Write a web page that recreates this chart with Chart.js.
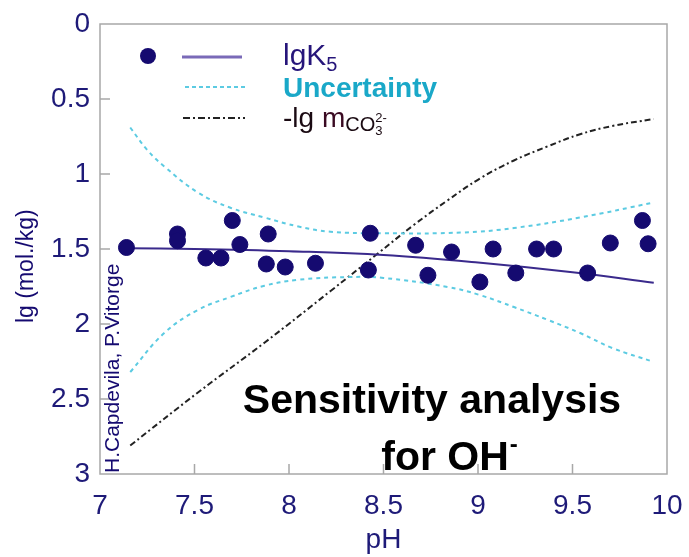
<!DOCTYPE html>
<html>
<head>
<meta charset="utf-8">
<script src="https://cdn.jsdelivr.net/npm/chart.js@4.4.1/dist/chart.umd.min.js"></script>
<style>
  html, body { margin: 0; padding: 0; background: #fff; }
  #wrap { width: 689px; height: 557px; position: relative; }
</style>
</head>
<body>
<div id="wrap"><canvas id="lgChart"></canvas></div>
<script>
// lgK5 vs pH — measured points, fitted curve, uncertainty band, -lg m(CO3 2-)
const phTicks = [7, 7.5, 8, 8.5, 9, 9.5, 10];
const lgTicks = [0, 0.5, 1, 1.5, 2, 2.5, 3];

const phPoints = [7.14, 7.41, 7.41, 7.56, 7.64, 7.70, 7.74, 7.89, 7.88, 7.98, 8.14, 8.43, 8.42,
                  8.67, 8.735, 8.86, 9.01, 9.08, 9.20, 9.31, 9.40, 9.58, 9.70, 9.87, 9.90];
const lgK5Points = [1.49, 1.40, 1.445, 1.56, 1.56, 1.31, 1.47, 1.40, 1.60, 1.62, 1.595, 1.395, 1.64,
                    1.475, 1.675, 1.52, 1.72, 1.50, 1.66, 1.50, 1.50, 1.66, 1.46, 1.31, 1.465];

const phFit = [7.14, 7.5, 8.0, 8.5, 9.0, 9.5, 9.93];
const lgK5Fit = [1.495, 1.50, 1.515, 1.54, 1.59, 1.655, 1.725];

const phUpper = [7.16, 7.25, 7.34, 7.52, 7.69, 7.87, 8.05, 8.22, 8.5, 8.92, 9.19, 9.54, 9.93];
const uncUpper = [0.69, 0.84, 0.95, 1.125, 1.225, 1.29, 1.35, 1.385, 1.395, 1.39, 1.36, 1.29, 1.19];

const phLower = [7.16, 7.34, 7.52, 7.69, 7.87, 8.05, 8.31, 8.5, 8.84, 9.01, 9.19, 9.37, 9.54, 9.71, 9.93];
const uncLower = [2.32, 2.06, 1.905, 1.82, 1.745, 1.705, 1.687, 1.693, 1.753, 1.807, 1.887, 1.973, 2.06, 2.16, 2.253];

const phCO3 = [7.16, 7.52, 7.87, 8.22, 8.47, 8.66, 8.84, 9.01, 9.19, 9.37, 9.54, 9.71, 9.93];
const lgCO3 = [2.81, 2.455, 2.125, 1.78, 1.53, 1.34, 1.175, 1.03, 0.91, 0.815, 0.735, 0.68, 0.633];

const NAVY = '#150a70';
const FIT = '#3a2a8c';
const CYAN = '#5ccbe2';
const DASHDOT = '#222222';
const FONT = '"Liberation Sans", Arial, Helvetica, sans-serif';

const pairs = (xs, ys) => xs.map((x, i) => ({ x: x, y: ys[i] }));

// frame, inner ticks, legend and annotations
const decor = {
  id: 'decor',
  afterDraw(chart) {
    const { ctx, chartArea: a, scales } = chart;
    ctx.save();
    ctx.strokeStyle = '#a8a8a8';
    ctx.lineWidth = 1.5;
    ctx.strokeRect(a.left, a.top, a.right - a.left, a.bottom - a.top);
    ctx.beginPath();
    phTicks.slice(1, -1).forEach(v => {
      const x = scales.x.getPixelForValue(v);
      ctx.moveTo(x, a.bottom); ctx.lineTo(x, a.bottom - 10);
    });
    lgTicks.slice(1, -1).forEach(v => {
      const y = scales.y.getPixelForValue(v);
      ctx.moveTo(a.left, y); ctx.lineTo(a.left + 10, y);
    });
    ctx.stroke();

    // legend
    ctx.fillStyle = NAVY;
    ctx.beginPath(); ctx.arc(148, 56, 8, 0, Math.PI * 2); ctx.fill();
    ctx.lineWidth = 3;
    ctx.strokeStyle = '#7a6ab8';
    ctx.beginPath(); ctx.moveTo(182, 57); ctx.lineTo(242, 57); ctx.stroke();
    ctx.lineWidth = 2;
    ctx.strokeStyle = CYAN; ctx.setLineDash([4, 3]);
    ctx.beginPath(); ctx.moveTo(185, 87); ctx.lineTo(245, 87); ctx.stroke();
    ctx.strokeStyle = DASHDOT; ctx.setLineDash([7, 3, 2, 3]);
    ctx.beginPath(); ctx.moveTo(183, 118); ctx.lineTo(245, 118); ctx.stroke();
    ctx.setLineDash([]);

    ctx.textAlign = 'left';
    ctx.textBaseline = 'alphabetic';
    ctx.fillStyle = '#26157a';
    ctx.font = '30px ' + FONT;
    ctx.fillText('lgK', 283, 65);
    let w = ctx.measureText('lgK').width;
    ctx.font = '20px ' + FONT;
    ctx.fillText('5', 283 + w, 71);

    ctx.fillStyle = '#1aa8c8';
    ctx.font = 'bold 28px ' + FONT;
    ctx.fillText('Uncertainty', 283, 97);

    ctx.fillStyle = '#1a0a12';
    ctx.font = '28px ' + FONT;
    ctx.fillText('-lg ', 283, 127);
    let x = 283 + ctx.measureText('-lg ').width;
    ctx.fillStyle = '#3a0a22';
    ctx.fillText('m', x, 127);
    x += ctx.measureText('m').width;
    ctx.fillStyle = '#1a0a12';
    ctx.font = '20px ' + FONT;
    ctx.fillText('CO', x, 131);
    x += ctx.measureText('CO').width;
    ctx.font = '13px ' + FONT;
    ctx.fillText('3', x, 135);
    ctx.fillText('2-', x, 122);

    // axis title on the left
    ctx.save();
    ctx.translate(27, 323);
    ctx.rotate(-Math.PI / 2);
    ctx.fillStyle = NAVY;
    ctx.font = '23px ' + FONT;
    ctx.textBaseline = 'middle';
    ctx.fillText('lg (mol./kg)', 0, 0);
    ctx.restore();

    // credit along the left edge
    ctx.save();
    ctx.translate(113, 473);
    ctx.rotate(-Math.PI / 2);
    ctx.fillStyle = NAVY;
    ctx.font = '21px ' + FONT;
    ctx.textBaseline = 'middle';
    ctx.fillText('H.Capdevila, P.Vitorge', 0, 0);
    ctx.restore();

    // caption
    ctx.fillStyle = '#000';
    ctx.font = 'bold 41px ' + FONT;
    ctx.textAlign = 'center';
    ctx.fillText('Sensitivity analysis', 432, 413);
    ctx.textAlign = 'left';
    const cap = 'for OH';
    const cw = ctx.measureText(cap).width;
    const cx = 445 - cw / 2;
    ctx.fillText(cap, cx, 470);
    ctx.font = 'bold 24px ' + FONT;
    ctx.fillText('-', cx + cw + 1, 452);
    ctx.restore();
  }
};

const lineSet = (label, data, color, dash) => ({
  label: label,
  data: data,
  showLine: true,
  borderColor: color,
  borderWidth: 2,
  borderDash: dash,
  pointRadius: 0,
  tension: 0.4
});

new Chart(document.getElementById('lgChart'), {
  type: 'scatter',
  data: {
    datasets: [
      {
        label: 'lgK5',
        data: pairs(phPoints, lgK5Points),
        backgroundColor: NAVY,
        borderColor: NAVY,
        pointRadius: 8,
        pointHoverRadius: 8,
        order: 0
      },
      Object.assign(lineSet('lgK5 fit', pairs(phFit, lgK5Fit), FIT, []), { order: 1 }),
      Object.assign(lineSet('Uncertainty', pairs(phUpper, uncUpper), CYAN, [4, 4]), { order: 2 }),
      Object.assign(lineSet('Uncertainty low', pairs(phLower, uncLower), CYAN, [4, 4]), { order: 2 }),
      Object.assign(lineSet('-lg mCO3', pairs(phCO3, lgCO3), DASHDOT, [6, 3, 2, 3]), { order: 3 })
    ]
  },
  options: {
    responsive: true,
    maintainAspectRatio: false,
    animation: false,
    layout: { padding: { top: 24, right: 22, left: 0, bottom: 0 } },
    plugins: { legend: { display: false }, tooltip: { enabled: false } },
    scales: {
      x: {
        type: 'linear',
        min: 7, max: 10,
        afterBuildTicks: (s) => { s.ticks = phTicks.map(v => ({ value: v })); },
        afterFit: (s) => { s.height = 83; s.paddingLeft = 0; s.paddingRight = 0; },
        grid: { display: false, drawTicks: false },
        border: { display: false },
        ticks: { color: '#1e1a78', font: { size: 28, family: FONT }, padding: 15, callback: (v) => String(v) },
        title: { display: true, text: 'pH', color: '#1e1a78', font: { size: 28, family: FONT }, padding: { top: 0, bottom: 0 } }
      },
      y: {
        type: 'linear',
        reverse: true,
        min: 0, max: 3,
        afterBuildTicks: (s) => { s.ticks = lgTicks.map(v => ({ value: v })); },
        afterFit: (s) => { s.width = 100; s.paddingTop = 0; s.paddingBottom = 0; },
        grid: { display: false, drawTicks: false },
        border: { display: false },
        ticks: { color: '#1e1a78', font: { size: 28, family: FONT }, padding: 10, callback: (v) => String(v) }
      }
    }
  },
  plugins: [decor]
});
</script>
</body>
</html>
